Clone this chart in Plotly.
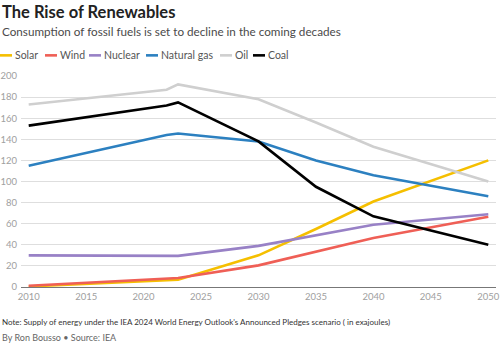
import plotly.graph_objects as go

# Primary energy supply, Announced Pledges Scenario (exajoules)
years = [2010, 2022, 2023, 2030, 2035, 2040, 2050]
solar = [0.5, 6, 7, 30, 55, 81, 120]
wind = [1.2, 8, 8.5, 20.5, 33.5, 46.5, 66.5]
nuclear = [30, 29, 29.5, 39, 49, 59, 69]
natural_gas = [115, 144, 145.5, 138, 120, 106, 86]
oil = [173, 187, 192, 178, 156, 133, 100]
coal = [153, 172, 175, 138, 95, 67, 40]

series_names = ["Solar", "Wind", "Nuclear", "Natural gas", "Oil", "Coal"]
series_values = [solar, wind, nuclear, natural_gas, oil, coal]
colors = ["#f5bf00", "#ef5f56", "#9881c6", "#2c80c0", "#cfcfcf", "#000000"]

y_ticks = [0, 20, 40, 60, 80, 100, 120, 140, 160, 180, 200]
x_ticks = [2010, 2015, 2020, 2025, 2030, 2035, 2040, 2045, 2050]

FONT = "Lato"
W, H = 500, 343
M_L, M_R, M_T, M_B = 21, 4, 75.7, 55.7
PLOT_W = W - M_L - M_R
PLOT_H = H - M_T - M_B


def px_x(px):
    return (px - M_L) / PLOT_W


def px_y(py):
    return (H - M_B - py) / PLOT_H


fig = go.Figure()
for name, vals, col in zip(series_names, series_values, colors):
    fig.add_trace(go.Scatter(
        x=years, y=vals, name=name, mode="lines",
        line=dict(color=col, width=2.6), showlegend=False,
        hoverinfo="x+y+name",
    ))

annotations = [
    dict(text="<b>The Rise of Renewables</b>", x=px_x(0), y=px_y(12),
         font=dict(size=16.5, color="#222222", family=FONT)),
    dict(text="Consumption of fossil fuels is set to decline in the coming decades",
         x=px_x(0), y=px_y(31), font=dict(size=11.7, color="#4a4a4a", family=FONT)),
    dict(text="Note: Supply of energy under the IEA 2024 World Energy Outlook's "
              "Announced Pledges scenario ( in exajoules)",
         x=px_x(0), y=px_y(322), font=dict(size=8, color="#333333", family=FONT)),
    dict(text="By Ron Bousso \u2022 Source: IEA", x=px_x(0), y=px_y(338),
         font=dict(size=9, color="#666666", family=FONT)),
]

# legend row: swatch start pixel for each series
legend_px = [0, 45, 89, 146, 220, 253]
shapes = []
for name, col, lx in zip(series_names, colors, legend_px):
    shapes.append(dict(type="line", xref="paper", yref="paper",
                       x0=px_x(lx), x1=px_x(lx + 12), y0=px_y(55), y1=px_y(55),
                       line=dict(color=col, width=2.6)))
    annotations.append(dict(text=name, x=px_x(lx + 12.5), y=px_y(55),
                            font=dict(size=10.5, color="#555555", family=FONT)))

for a in annotations:
    a.update(xref="paper", yref="paper", xanchor="left", yanchor="middle",
             showarrow=False, align="left")

fig.update_layout(
    width=W, height=H,
    margin=dict(l=M_L, r=M_R, t=M_T, b=M_B, pad=0),
    paper_bgcolor="white", plot_bgcolor="white",
    font=dict(family=FONT, color="#999999", size=10),
    annotations=annotations, shapes=shapes,
    xaxis=dict(range=[2009.33, 2050.67], tickvals=x_ticks, showgrid=False,
               zeroline=False, showline=False, ticks="",
               ticklabeloverflow="allow", automargin=False,
               ticklabelstandoff=2,
               tickfont=dict(size=9.5, color="#a0a0a0")),
    yaxis=dict(range=[0, 200], tickvals=y_ticks, showgrid=True,
               gridcolor="#dedede", gridwidth=1, zeroline=True,
               zerolinecolor="#777777", zerolinewidth=1, ticks="",
               automargin=False,
               ticklabelstandoff=3, tickfont=dict(size=9.5, color="#a0a0a0")),
)

fig.write_html("out.html")
